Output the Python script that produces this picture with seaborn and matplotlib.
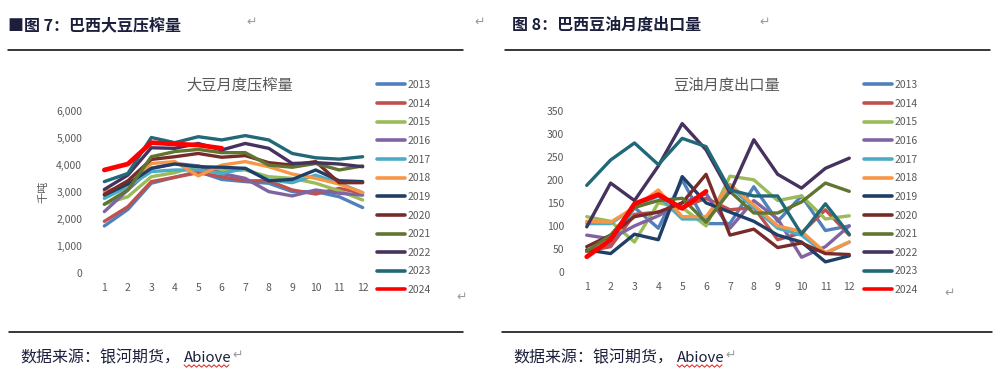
import matplotlib
matplotlib.use("Agg")
import matplotlib.pyplot as plt
import seaborn as sns
import pandas as pd
from matplotlib.lines import Line2D

months = list(range(1, 13))
years = ["2013", "2014", "2015", "2016", "2017", "2018",
         "2019", "2020", "2021", "2022", "2023", "2024"]
colors = ["#4F81BD", "#C0504D", "#9BBB59", "#8064A2", "#4BACC6", "#F79646",
          "#1F3F66", "#772C2A", "#5F7530", "#45325E", "#216878", "#FF0000"]

# Brazil soybean crush, thousand tonnes
crush = [
    [1750, 2360, 3330, 3550, 3760, 3470, 3390, 3330, 3020, 3020, 2830, 2430],
    [1920, 2460, 3390, 3550, 3720, 3570, 3420, 3420, 3080, 2930, 3140, 2960],
    [2560, 2830, 3570, 3720, 3970, 3790, 3820, 3570, 3510, 3330, 3050, 2710],
    [2280, 3080, 3880, 4060, 3970, 3690, 3510, 3020, 2860, 3080, 2960, 2890],
    [2770, 3200, 3760, 3820, 3820, 3690, 3880, 3450, 3350, 3630, 3330, 2980],
    [3020, 3260, 4060, 4130, 3600, 4000, 4130, 3940, 3670, 3510, 3300, 2980],
    [2890, 3300, 3880, 4040, 3940, 3920, 3880, 3420, 3470, 3820, 3420, 3390],
    [2920, 3420, 4210, 4310, 4430, 4290, 4350, 4090, 4000, 4130, 3350, 3350],
    [2550, 3080, 4310, 4500, 4580, 4460, 4460, 4000, 3920, 4060, 3820, 3970],
    [3100, 3630, 4640, 4620, 4800, 4560, 4800, 4620, 4060, 4090, 4040, 3940],
    [3390, 3690, 5020, 4830, 5050, 4930, 5090, 4930, 4430, 4270, 4220, 4310],
    [3820, 4040, 4830, 4780, 4740, 4620],
]

# Brazil soybean oil exports, thousand tonnes
exports = [
    [45, 60, 140, 95, 200, 105, 105, 185, 110, 165, 90, 100],
    [45, 55, 125, 130, 140, 160, 135, 140, 70, 85, 135, 80],
    [120, 110, 65, 150, 140, 100, 208, 200, 155, 165, 115, 122],
    [80, 72, 100, 122, 150, 170, 95, 155, 115, 32, 55, 100],
    [105, 105, 140, 165, 115, 115, 185, 140, 95, 80, 40, 65],
    [110, 108, 140, 178, 120, 120, 190, 145, 100, 88, 42, 65],
    [48, 40, 82, 70, 207, 150, 130, 110, 80, 65, 22, 35],
    [55, 80, 120, 130, 150, 212, 80, 93, 53, 63, 40, 38],
    [45, 80, 140, 155, 160, 108, 175, 128, 128, 152, 193, 175],
    [98, 193, 155, 230, 322, 265, 172, 287, 212, 182, 225, 247],
    [188, 243, 280, 233, 290, 272, 178, 165, 165, 82, 148, 82],
    [33, 70, 148, 168, 138, 175],
]

sns.set_theme(style="white")
plt.rcParams["font.family"] = ["Noto Sans CJK SC", "DejaVu Sans"]

GRAY = "#595959"
NAVY = "#1B1F3B"
W, H = 1000, 377


def to_frame(values):
    rows = []
    for year, vals in zip(years, values):
        for m, v in zip(months, vals):
            rows.append({"month": m, "year": year, "value": v})
    return pd.DataFrame(rows)


def fx(px):
    return px / W


def fy(py):
    return 1 - py / H


fig = plt.figure(figsize=(10, 3.77), dpi=100)


def draw_panel(rect, df, title, title_xy, ymax, step, fmt, ylabel_xy, legend_xy):
    ax = fig.add_axes(rect)
    for year, color in zip(years, colors):
        sub = df[df["year"] == year]
        sns.lineplot(data=sub, x="month", y="value", color=color,
                     lw=3.4 if year == "2024" else 2.4, ax=ax, legend=False)
    ax.set_xlim(0.5, 12.5)
    ax.set_ylim(0, ymax)
    ax.set_xticks(months)
    ax.set_yticks(list(range(0, ymax + 1, step)))
    ax.set_yticklabels([fmt(v) for v in range(0, ymax + 1, step)])
    ax.tick_params(axis="both", length=0, labelsize=7.5, labelcolor=GRAY)
    ax.tick_params(axis="x", pad=7)
    ax.tick_params(axis="y", pad=7.5)
    ax.set_xlabel("")
    ax.set_ylabel("")
    for s in ax.spines.values():
        s.set_visible(False)
    ax.set_facecolor("none")
    fig.text(fx(title_xy[0]), fy(title_xy[1]), title, ha="center", va="center",
             fontsize=11, color=GRAY)
    if ylabel_xy is not None:
        fig.text(fx(ylabel_xy[0]), fy(ylabel_xy[1]), "千吨", rotation=90,
                 ha="center", va="center", fontsize=8, color=GRAY)
    handles = [Line2D([0], [0], color=c, lw=2.6) for c in colors]
    ax.legend(handles, years, loc="upper left",
              bbox_to_anchor=(fx(legend_xy[0]), fy(legend_xy[1])),
              bbox_transform=fig.transFigure, frameon=False, fontsize=7.5,
              labelcolor=GRAY, handlelength=2.7, handletextpad=0.2,
              labelspacing=0.83, borderpad=0, borderaxespad=0)
    return ax


draw_panel([fx(92.6), fy(273.3), fx(374.4 - 92.6), (273.3 - 111) / H],
           to_frame(crush), "大豆月度压榨量", (240, 85), 6000, 1000,
           lambda v: f"{v:,}", (43, 192), (377, 80))

draw_panel([fx(574.8), fy(272), fx(861.2 - 574.8), (272 - 110.7) / H],
           to_frame(exports), "豆油月度出口量", (727, 85), 350, 50,
           lambda v: f"{v}", None, (864, 80))

# document header / footer
fig.text(fx(8), fy(25), "■图 7：巴西大豆压榨量", ha="left", va="center",
         fontsize=11.5, fontweight="bold", color=NAVY)
fig.text(fx(512), fy(25), "图 8：巴西豆油月度出口量", ha="left", va="center",
         fontsize=11.5, fontweight="bold", color=NAVY)
for x0, x1, y in [(8, 463, 49.5), (505, 990, 49.5), (9, 463, 331.5), (502, 992, 331.5)]:
    fig.add_artist(Line2D([fx(x0), fx(x1)], [fy(y), fy(y)],
                          transform=fig.transFigure, color="black", lw=1.1))

for off in [0, 493]:
    fig.text(fx(20 + off), fy(358), "数据来源：银河期货，", ha="left",
             va="center", fontsize=11.5, color=NAVY)
    fig.text(fx(184 + off), fy(358), "Abiove", ha="left",
             va="center", fontsize=10.8, color=NAVY)
    # spell-check wave under "Abiove"
    wx = [184 + off + 2.5 * i for i in range(19)]
    wy = [366 + (1.2 if i % 2 else -1.2) for i in range(19)]
    fig.add_artist(Line2D([fx(v) for v in wx], [fy(v) for v in wy],
                          transform=fig.transFigure, color="#E02020", lw=0.7))
    fig.text(fx(238 + off), fy(355), "↵", ha="center", va="center", fontsize=9,
             color="#9A9A9A", family=["DejaVu Sans"])

for x, y in [(252, 22), (480, 22), (765, 22), (462, 297), (950, 293)]:
    fig.text(fx(x), fy(y), "↵", ha="center", va="center", fontsize=9,
             color="#9A9A9A", family=["DejaVu Sans"])

fig.savefig("out.png", dpi=100)
